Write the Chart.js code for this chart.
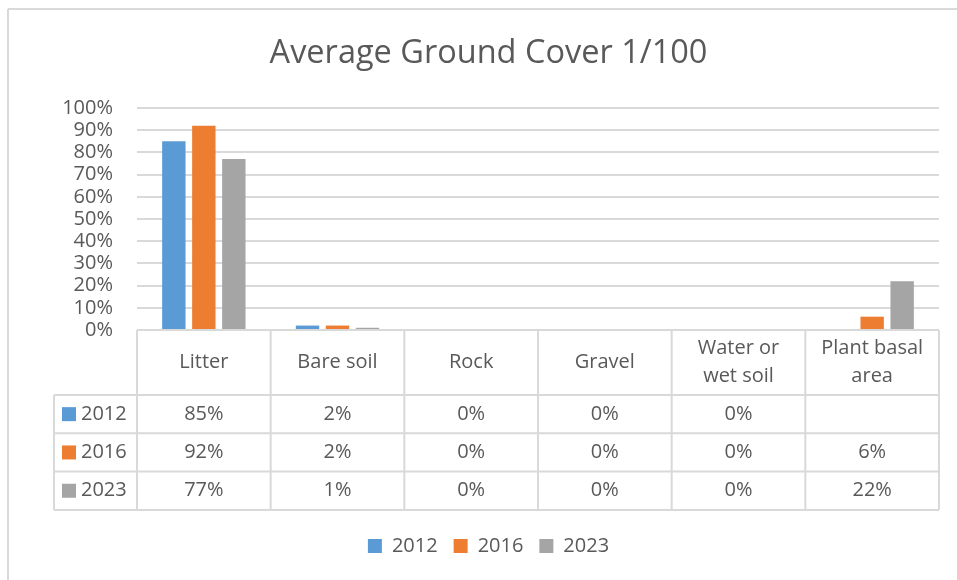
<!DOCTYPE html>
<html>
<head>
<meta charset="utf-8">
<script src="https://cdn.jsdelivr.net/npm/chart.js@4.4.0/dist/chart.umd.min.js"></script>
<style>
  html, body { margin: 0; padding: 0; background: #fff; }
  #chart0 { display: block; }
</style>
</head>
<body>
<canvas id="chart0" width="957" height="580"></canvas>
<script>
// data
const categories = ['Litter', 'Bare soil', 'Rock', 'Gravel', 'Water or wet soil', 'Plant basal area'];
const headerLines = [['Litter'], ['Bare soil'], ['Rock'], ['Gravel'], ['Water or', 'wet soil'], ['Plant basal', 'area']];
const years = ['2012', '2016', '2023'];
const values2012 = [85, 2, 0, 0, 0, null];
const values2016 = [92, 2, 0, 0, 0, 6];
const values2023 = [77, 1, 0, 0, 0, 22];
const colors = ['#5b9bd5', '#ed7d31', '#a5a5a5'];

const FONT = "'Open Sans', sans-serif";
const TEXT = '#595959';
const LINE = '#d9d9d9';

const series = [values2012, values2016, values2023];

// excel style data table under the plot
const tablePlugin = {
    id: 'dataTable',
    beforeDraw(chart) {
        const c = chart.ctx;
        c.save();
        c.strokeStyle = LINE;
        c.lineWidth = 2;
        c.beginPath();
        c.moveTo(8, 9); c.lineTo(957, 9);
        c.moveTo(8, 9); c.lineTo(8, 580);
        c.stroke();
        c.restore();
    },
    afterDraw(chart) {
        const c = chart.ctx;
        const area = chart.chartArea;
        const n = categories.length;
        const w = (area.right - area.left) / n;
        const top = area.bottom;
        const headerH = 65;
        const rowH = 38.3;
        const leftX = 54;
        const bottom = top + headerH + rowH * 3;

        c.save();
        c.strokeStyle = LINE;
        c.lineWidth = 2;
        c.beginPath();
        c.moveTo(area.left, top); c.lineTo(area.right, top);
        for (let r = 0; r <= 3; r++) {
            const y = top + headerH + r * rowH;
            c.moveTo(leftX, y); c.lineTo(area.right, y);
        }
        for (let i = 0; i <= n; i++) {
            const x = area.left + i * w;
            c.moveTo(x, top); c.lineTo(x, bottom);
        }
        c.moveTo(leftX, top + headerH); c.lineTo(leftX, bottom);
        c.stroke();

        c.fillStyle = TEXT;
        c.font = '20px ' + FONT;
        c.textAlign = 'center';
        c.textBaseline = 'middle';
        for (let i = 0; i < n; i++) {
            const cx = area.left + i * w + w / 2;
            const lines = headerLines[i];
            const cy = top + headerH / 2 - (lines.length - 1) * 14;
            lines.forEach((t, k) => c.fillText(t, cx, cy + k * 28));
        }

        for (let r = 0; r < years.length; r++) {
            const cy = top + headerH + r * rowH + rowH / 2;
            c.fillStyle = colors[r];
            c.fillRect(62, cy - 7, 14, 14);
            c.fillStyle = TEXT;
            c.textAlign = 'left';
            c.fillText(years[r], 81, cy);
            c.textAlign = 'center';
            for (let i = 0; i < n; i++) {
                const v = series[r][i];
                if (v === null) continue;
                c.fillText(v + '%', area.left + i * w + w / 2, cy);
            }
        }
        c.restore();
    }
};

const datasets = [];
for (let i = 0; i < years.length; i++)
    datasets.push({
        label: years[i],
        data: series[i],
        backgroundColor: colors[i],
        borderWidth: 0,
        categoryPercentage: 0.673,
        barPercentage: 0.78,
    });

const chart0 = new Chart(document.getElementById('chart0'), {
    type: 'bar',
    data: {
        labels: categories,
        datasets: datasets,
    },
    plugins: [tablePlugin],
    options: {
        responsive: false,
        animation: false,
        layout: {
            padding: { top: 12, left: 38, right: 18, bottom: 14 }
        },
        plugins: {
            title: {
                display: true,
                text: 'Average Ground Cover 1/100',
                color: TEXT,
                font: { family: FONT, size: 32.5, weight: 'normal' },
                padding: { top: 22.5, bottom: 34.5 }
            },
            legend: {
                position: 'bottom',
                labels: {
                    color: TEXT,
                    font: { family: FONT, size: 20 },
                    boxWidth: 14,
                    boxHeight: 14,
                    padding: 16,
                }
            },
            tooltip: { enabled: false }
        },
        scales: {
            x: {
                grid: { display: false },
                border: { display: false },
                ticks: { display: false },
                afterFit: (scale) => { scale.height = 190; }
            },
            y: {
                min: 0,
                max: 100,
                ticks: {
                    stepSize: 10,
                    autoSkip: false,
                    padding: 24,
                    color: TEXT,
                    font: { family: FONT, size: 20 },
                    callback: (v) => v + '%'
                },
                grid: { color: LINE, lineWidth: 2, drawTicks: false },
                border: { display: false },
                afterFit: (scale) => { scale.width = 99; }
            }
        }
    }
});
</script>
</body>
</html>
